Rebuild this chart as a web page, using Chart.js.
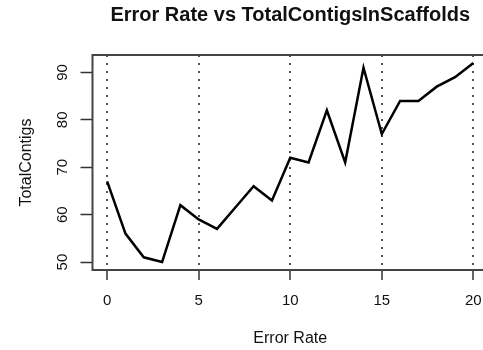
<!DOCTYPE html>
<html>
<head>
<meta charset="utf-8">
<script src="https://cdn.jsdelivr.net/npm/chart.js@4"></script>
<style>
  html, body { margin: 0; padding: 0; overflow: hidden; background: #fff; }
  #wrap { width: 500px; height: 350px; }
</style>
</head>
<body>
<div id="wrap"><canvas id="chart" width="500" height="350"></canvas></div>
<script>
// data
const errorRate = [0, 1, 2, 3, 4, 5, 6, 7, 8, 9, 10, 11, 12, 13, 14, 15, 16, 17, 18, 19, 20];
const totalContigs = [67, 56, 51, 50, 62, 59, 57, 61.5, 66, 63, 72, 71, 82, 71, 91, 77, 84, 84, 87, 89, 92];
const xTicks = [0, 5, 10, 15, 20];
const yTicks = [50, 60, 70, 80, 90];

const titleText = 'Error Rate vs TotalContigsInScaffolds';
const FONT = '"Liberation Sans", Arial, Helvetica, sans-serif';

// box round the plot region + main title over the plot region (R style)
const boxAndTitle = {
    id: 'boxAndTitle',
    afterDraw(chart) {
        const { ctx, chartArea: a } = chart;
        ctx.save();
        ctx.strokeStyle = '#444';
        ctx.lineWidth = 2;
        ctx.strokeRect(a.left, a.top, a.right - a.left, a.bottom - a.top);
        ctx.fillStyle = '#111';
        ctx.font = 'bold 20px ' + FONT;
        ctx.textAlign = 'center';
        ctx.textBaseline = 'middle';
        ctx.fillText(titleText, (a.left + a.right) / 2, 15);
        ctx.restore();
    }
};

new Chart(document.getElementById('chart'), {
    type: 'line',
    data: {
        datasets: [{
            data: errorRate.map((x, i) => ({ x: x, y: totalContigs[i] })),
            borderColor: '#000',
            borderWidth: 2.5,
            pointRadius: 0,
            tension: 0,
            fill: false
        }]
    },
    options: {
        responsive: false,
        animation: false,
        layout: { padding: { top: 55, right: 12, left: 0, bottom: 0 } },
        plugins: { legend: { display: false }, tooltip: { enabled: false } },
        scales: {
            x: {
                type: 'linear',
                min: -0.8,
                max: 20.8,
                afterBuildTicks: s => { s.ticks = xTicks.map(v => ({ value: v })); },
                afterFit: s => { s.height = 80; },
                // in v4 the grid line dash lives under border.dash
                border: { display: false, dash: [2, 6] },
                grid: {
                    color: '#555',
                    lineWidth: 2,
                    tickBorderDash: [],
                    tickColor: '#333',
                    tickWidth: 1.5,
                    tickLength: 10
                },
                ticks: { color: '#111', padding: 12, font: { family: FONT, size: 15 } },
                title: {
                    display: true,
                    text: 'Error Rate',
                    color: '#111',
                    padding: { top: 0, bottom: 2 },
                    font: { family: FONT, size: 16 }
                }
            },
            y: {
                min: 48.32,
                max: 93.68,
                afterBuildTicks: s => { s.ticks = yTicks.map(v => ({ value: v })); },
                afterFit: s => { s.width = 92.5; },
                border: { display: false },
                grid: {
                    drawOnChartArea: false,
                    tickColor: '#333',
                    tickWidth: 1.5,
                    tickLength: 12
                },
                ticks: {
                    color: '#111',
                    minRotation: 90,
                    maxRotation: 90,
                    crossAlign: 'center',
                    padding: 9,
                    font: { family: FONT, size: 15 }
                },
                title: {
                    display: true,
                    text: 'TotalContigs',
                    color: '#111',
                    padding: { top: 17, bottom: 0 },
                    font: { family: FONT, size: 16 }
                }
            }
        }
    },
    plugins: [boxAndTitle]
});
</script>
</body>
</html>
